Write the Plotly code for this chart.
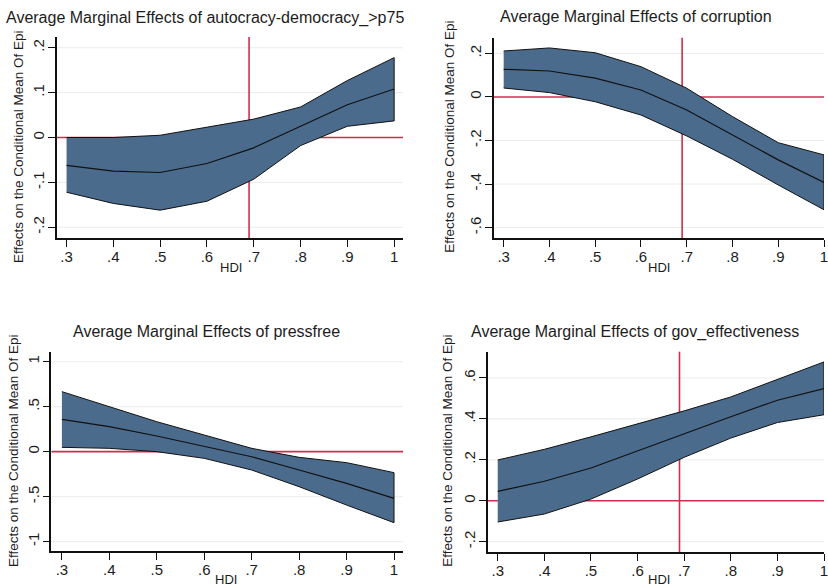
import plotly.graph_objects as go

# ---------------- data ----------------
hdi = [0.3, 0.4, 0.5, 0.6, 0.7, 0.8, 0.9, 1.0]

auto_mid = [-0.062, -0.075, -0.078, -0.058, -0.023, 0.025, 0.073, 0.108]
auto_hi = [0.000, 0.000, 0.005, 0.023, 0.041, 0.068, 0.127, 0.178]
auto_lo = [-0.122, -0.147, -0.162, -0.142, -0.093, -0.018, 0.025, 0.037]

corr_mid = [0.127, 0.119, 0.086, 0.032, -0.060, -0.174, -0.289, -0.393]
corr_hi = [0.211, 0.225, 0.203, 0.139, 0.040, -0.090, -0.210, -0.266]
corr_lo = [0.041, 0.020, -0.022, -0.083, -0.179, -0.286, -0.404, -0.518]

press_mid = [0.359, 0.278, 0.174, 0.063, -0.056, -0.204, -0.352, -0.519]
press_hi = [0.667, 0.500, 0.333, 0.185, 0.037, -0.063, -0.122, -0.233]
press_lo = [0.048, 0.037, 0.000, -0.074, -0.204, -0.389, -0.593, -0.789]

gov_mid = [0.046, 0.095, 0.160, 0.244, 0.329, 0.410, 0.491, 0.548]
gov_hi = [0.199, 0.251, 0.312, 0.374, 0.439, 0.507, 0.594, 0.678]
gov_lo = [-0.104, -0.065, 0.008, 0.106, 0.212, 0.306, 0.382, 0.420]

x_ticks = [0.3, 0.4, 0.5, 0.6, 0.7, 0.8, 0.9, 1.0]
x_ticktext = [".3", ".4", ".5", ".6", ".7", ".8", ".9", "1"]

y1_ticks = [-0.2, -0.1, 0, 0.1, 0.2]
y1_text = ["-.2", "-.1", "0", ".1", ".2"]
y2_ticks = [-0.6, -0.4, -0.2, 0, 0.2]
y2_text = ["-.6", "-.4", "-.2", "0", ".2"]
y3_ticks = [-1, -0.5, 0, 0.5, 1]
y3_text = ["-1", "-.5", "0", ".5", "1"]
y4_ticks = [-0.2, 0, 0.2, 0.4, 0.6]
y4_text = ["-.2", "0", ".2", ".4", ".6"]

titles = [
    "Average Marginal Effects of autocracy-democracy_>p75",
    "Average Marginal Effects of corruption",
    "Average Marginal Effects of pressfree",
    "Average Marginal Effects of gov_effectiveness",
]
ytitle = "Effects on the Conditional Mean Of Epi"
xtitle = "HDI"
hdi_ref = 0.69

# ---------------- layout helpers ----------------
W, H = 828, 588
FONT = "Liberation Sans, Arial, sans-serif"
TXT = "#1c1c1c"
BAND = "#4b6b8c"
RED = "#d02c4e"
GRID = "#ebebeb"


def xd(a, b):
    return [a / W, min(b / W, 1.0)]


def yd(top, bottom):
    return [1 - bottom / H, 1 - top / H]


panels = [
    dict(mid=auto_mid, hi=auto_hi, lo=auto_lo, xr=[0.279, 1.019], yr=[-0.224, 0.224],
         yt=y1_ticks, ytt=y1_text, xdom=xd(57, 405), ydom=yd(37, 238), vline=True,
         title=(206, 18), ylab=(18, 147), xlab=(232, 267)),
    dict(mid=corr_mid, hi=corr_hi, lo=corr_lo, xr=[0.278, 1.0], yr=[-0.649, 0.272],
         yt=y2_ticks, ytt=y2_text, xdom=xd(496, 828), ydom=yd(37.7, 238.3), vline=True,
         title=(639, 17), ylab=(451, 137), xlab=(662, 267)),
    dict(mid=press_mid, hi=press_hi, lo=press_lo, xr=[0.278, 1.019], yr=[-1.107, 1.104],
         yt=y3_ticks, ytt=y3_text, xdom=xd(51.7, 405), ydom=yd(352.3, 551.3), vline=False,
         title=(207, 331), ylab=(13, 451), xlab=(227, 579)),
    dict(mid=gov_mid, hi=gov_hi, lo=gov_lo, xr=[0.279, 1.0], yr=[-0.252, 0.728],
         yt=y4_ticks, ytt=y4_text, xdom=xd(490.3, 828), ydom=yd(351.7, 552.3), vline=True,
         title=(638.5, 332), ylab=(449, 451), xlab=(662, 579)),
]

fig = go.Figure()
grid_shapes = []
red_shapes = []
annotations = []
layout_axes = {}

for i, p in enumerate(panels, start=1):
    xa = "x" if i == 1 else f"x{i}"
    ya = "y" if i == 1 else f"y{i}"
    # band polygon (upper then reversed lower)
    fig.add_trace(go.Scatter(
        x=hdi + hdi[::-1], y=p["hi"] + p["lo"][::-1],
        fill="toself", fillcolor=BAND, mode="lines",
        line=dict(color="#111111", width=1), xaxis=xa, yaxis=ya,
        showlegend=False, hoverinfo="skip"))
    fig.add_trace(go.Scatter(
        x=hdi, y=p["mid"], mode="lines",
        line=dict(color="#111111", width=1.2), xaxis=xa, yaxis=ya,
        showlegend=False))

    xkey = "xaxis" if i == 1 else f"xaxis{i}"
    ykey = "yaxis" if i == 1 else f"yaxis{i}"
    layout_axes[xkey] = dict(
        domain=p["xdom"], range=p["xr"], anchor=ya,
        tickvals=x_ticks, ticktext=x_ticktext,
        ticks="outside", ticklen=7, tickwidth=1.3, tickcolor="#111",
        showline=True, linecolor="#111", linewidth=1.5,
        showgrid=False, zeroline=False,
        tickfont=dict(family=FONT, size=15, color=TXT),
        ticklabelstandoff=-3, ticklabeloverflow="allow",
    )
    layout_axes[ykey] = dict(
        domain=p["ydom"], range=p["yr"], anchor=xa,
        tickvals=p["yt"], ticktext=p["ytt"], tickangle=-90,
        ticks="outside", ticklen=7, tickwidth=1.3, tickcolor="#111",
        showline=True, linecolor="#111", linewidth=1.5,
        showgrid=False, zeroline=False,
        tickfont=dict(family=FONT, size=15, color=TXT),
        ticklabelstandoff=-2, ticklabeloverflow="allow",
    )

    # light gridlines at nonzero y ticks
    for v in p["yt"]:
        if v != 0:
            grid_shapes.append(dict(type="line", xref=f"{xa} domain", yref=ya,
                                    x0=0, x1=1, y0=v, y1=v, layer="below",
                                    line=dict(color=GRID, width=1)))
    # horizontal reference line at 0
    red_shapes.append(dict(type="line", xref=f"{xa} domain", yref=ya,
                           x0=0, x1=1, y0=0, y1=0, layer="below",
                           line=dict(color=RED, width=1.6)))
    if p["vline"]:
        red_shapes.append(dict(type="line", xref=xa, yref=f"{ya} domain",
                               x0=hdi_ref, x1=hdi_ref, y0=0, y1=1, layer="below",
                               line=dict(color=RED, width=1.6)))

    tx, ty = p["title"]
    annotations.append(dict(text=titles[i - 1], x=tx / W, y=1 - ty / H,
                            xref="paper", yref="paper", xanchor="center", yanchor="middle",
                            showarrow=False, font=dict(family=FONT, size=16, color=TXT)))
    lx, ly = p["ylab"]
    annotations.append(dict(text=ytitle, x=lx / W, y=1 - ly / H, textangle=-90,
                            xref="paper", yref="paper", xanchor="center", yanchor="middle",
                            showarrow=False, font=dict(family=FONT, size=13.5, color=TXT)))
    hx, hy = p["xlab"]
    annotations.append(dict(text=xtitle, x=hx / W, y=1 - hy / H,
                            xref="paper", yref="paper", xanchor="center", yanchor="middle",
                            showarrow=False, font=dict(family=FONT, size=13, color=TXT)))

fig.update_layout(
    width=W, height=H,
    margin=dict(l=0, r=0, t=0, b=0),
    paper_bgcolor="white", plot_bgcolor="white",
    shapes=grid_shapes + red_shapes, annotations=annotations,
    showlegend=False,
    **layout_axes,
)

fig.write_html("out.html")
